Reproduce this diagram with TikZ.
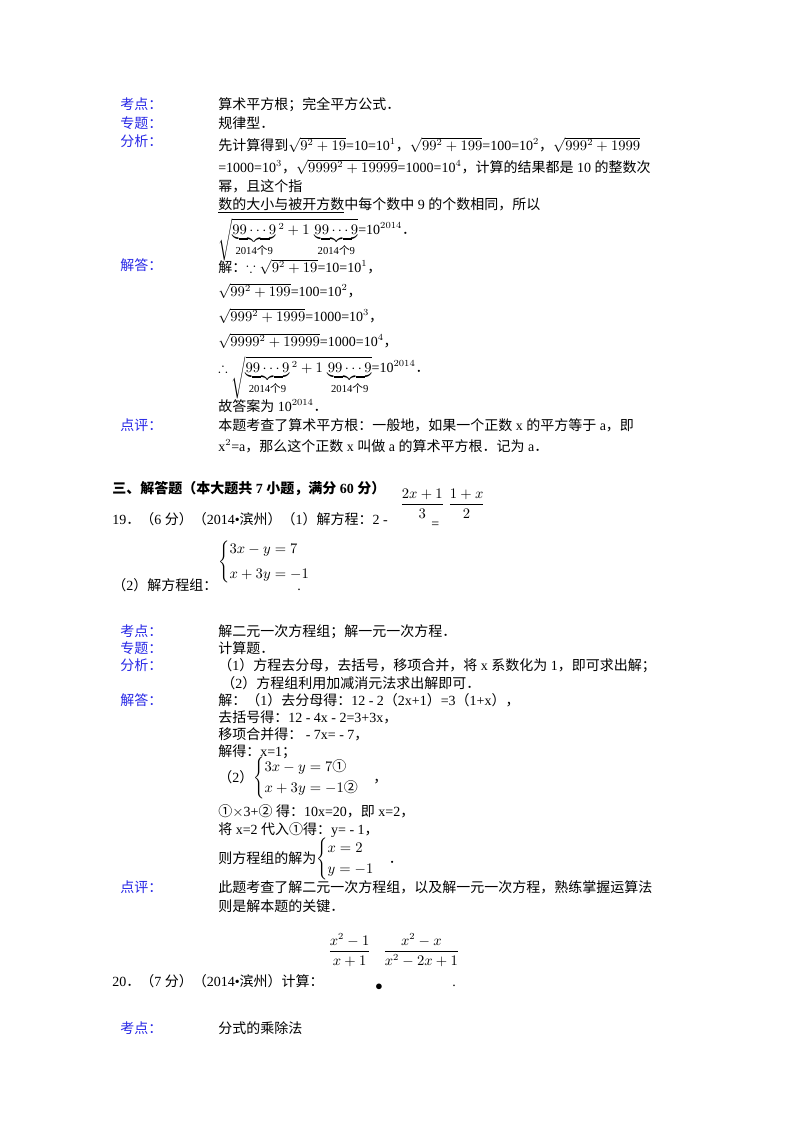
\documentclass[tikz,border=0pt]{standalone}
\usepackage{amsmath,amssymb}
\usepackage{fontspec}
\setmainfont{Liberation Serif}
\newfontfamily\cjk{Noto Sans CJK SC}
\newcommand\zh[1]{{\cjk #1}}
\newcommand\pd{\zh{．}}
\newcommand\ca{\text{\zh{①}}}
\newcommand\cb{\text{\zh{②}}}
\newcommand\br{\underbrace{99\cdots9}_{\text{\footnotesize 2014\zh{个}9}}}
\definecolor{lab}{RGB}{40,40,230}
\begin{document}
\begin{tikzpicture}[x=0.75pt,y=-0.75pt,
  every node/.style={anchor=base west,inner sep=0pt,font=\fontsize{10.5}{12}\selectfont},
  lb/.style={text=lab}]
\useasboundingbox (0,0) rectangle (800,1132);
\fill[white] (0,0) rectangle (800,1132);
% ---- block 18
\node[lb] (l1) at (120,109) {\zh{考点：}};
\node (t1) at (218,109) {\zh{算术平方根；完全平方公式．}};
\node[lb] (l2) at (120,128) {\zh{专题：}};
\node (t2) at (218,128) {\zh{规律型．}};
\node[lb] (l3) at (120,146) {\zh{分析：}};
\node (t3) at (218,150) {\zh{先计算得到}$\sqrt{9^2+19}$=10=10$^1$\zh{，}$\sqrt{99^2+199}$=100=10$^2$\zh{，}$\sqrt{999^2+1999}$};
\node (t4) at (218,172) {=1000=10$^3$\zh{，}$\sqrt{9999^2+19999}$=1000=10$^4$\zh{，计算的结果都是} 10 \zh{的整数次}};
\node (t5) at (218,191) {\zh{幂，且这个指}};
\node (t6) at (218,209) {\underline{\zh{数的大小与被开方数}}\zh{中每个数中} 9 \zh{的个数相同，所以}};
\node (t7) at (218,234) {$\sqrt{\br{}^2+1\,\br}$=10$^{2014}$\pd};
\node[lb] (l4) at (120,270) {\zh{解答：}};
\node (a1) at (218,272) {\zh{解：}$\because\sqrt{9^2+19}$=10=10$^1$\zh{，}};
\node (a2) at (218,296) {$\sqrt{99^2+199}$=100=10$^2$\zh{，}};
\node (a3) at (218,321) {$\sqrt{999^2+1999}$=1000=10$^3$\zh{，}};
\node (a4) at (218,346) {$\sqrt{9999^2+19999}$=1000=10$^4$\zh{，}};
\node (a5) at (218,372) {$\therefore\sqrt{\br{}^2+1\,\br}$=10$^{2014}$\pd};
\node (a6) at (218,411) {\zh{故答案为} 10$^{2014}$\pd};
\node[lb] (l5) at (120,430) {\zh{点评：}};
\node (c1) at (218,430) {\zh{本题考查了算术平方根：一般地，如果一个正数} x \zh{的平方等于} a\zh{，即}};
\node (c2) at (218,451) {x$^2$=a\zh{，那么这个正数} x \zh{叫做} a \zh{的算术平方根．记为} a\pd};
% ---- section
\node (s) at (112,493) {\bfseries\zh{\bfseries 三、解答题（本大题共} 7 \zh{小题，满分} 60 \zh{分）}};
\node (q19) at (112,524) {19\pd\zh{（}6 \zh{分）（}2014\textbullet\zh{滨州）（}1\zh{）解方程：}2 -};
\node (f1) at (400,508) {$\dfrac{2x+1}{3}$};
\node (eq) at (431,528) {=};
\node (f2) at (448,508) {$\dfrac{1+x}{2}$};
\node (sys) at (218,566) {$\begin{cases}3x-y=7\\[4pt] x+3y=-1\end{cases}$};
\node (q2) at (112,590) {\zh{（}2\zh{）解方程组：}};
\node (dot) at (297,590) {.};
% ---- block 19
\node[lb] (m1) at (120,636) {\zh{考点：}};
\node (n1) at (218,636) {\zh{解二元一次方程组；解一元一次方程．}};
\node[lb] (m2) at (120,653) {\zh{专题：}};
\node (n2) at (218,653) {\zh{计算题．}};
\node[lb] (m3) at (120,670) {\zh{分析：}};
\node (n3) at (218,670) {\zh{（}1\zh{）方程去分母，去括号，移项合并，将} x \zh{系数化为} 1\zh{，即可求出解；}};
\node (n4) at (221,688) {\zh{（}2\zh{）方程组利用加减消元法求出解即可．}};
\node[lb] (m4) at (120,705) {\zh{解答：}};
\node (p1) at (218,705) {\zh{解：（}1\zh{）去分母得：}12 - 2\zh{（}2x+1\zh{）}=3\zh{（}1+x\zh{），}};
\node (p2) at (218,722) {\zh{去括号得：}12 - 4x - 2=3+3x\zh{，}};
\node (p3) at (218,739) {\zh{移项合并得：} - 7x= - 7\zh{，}};
\node (p4) at (218,756) {\zh{解得：}x=1\zh{；}};
\node (p5) at (218,782) {\zh{（}2\zh{）}$\begin{cases}3x-y=7\ca\\[1pt] x+3y=-1\cb\end{cases}$\zh{，}};
\node (p6) at (218,816) {\zh{①}$\times$3+\zh{②} \zh{得：}10x=20\zh{，即} x=2\zh{，}};
\node (p7) at (218,834) {\zh{将} x=2 \zh{代入①得：}y= - 1\zh{，}};
\node (p8) at (218,863) {\zh{则方程组的解为}$\begin{cases}x=2\\[1pt] y=-1\end{cases}$\pd};
\node[lb] (m5) at (120,892) {\zh{点评：}};
\node (r1) at (218,892) {\zh{此题考查了解二元一次方程组，以及解一元一次方程，熟练掌握运算法}};
\node (r2) at (218,911) {\zh{则是解本题的关键．}};
% ---- 20
\node (g1) at (328,955) {$\dfrac{x^2-1}{x+1}$};
\node (g0) at (375,990) {$\bullet$};
\node (g2) at (383,955) {$\dfrac{x^2-x}{x^2-2x+1}$};
\node (q20) at (112,986) {20\pd\zh{（}7 \zh{分）（}2014\textbullet\zh{滨州）计算：}};
\node (gd) at (452,986) {.};
\node[lb] (k1) at (120,1033) {\zh{考点：}};
\node (k2) at (218,1033) {\zh{分式的乘除法}};
\end{tikzpicture}
\end{document}
